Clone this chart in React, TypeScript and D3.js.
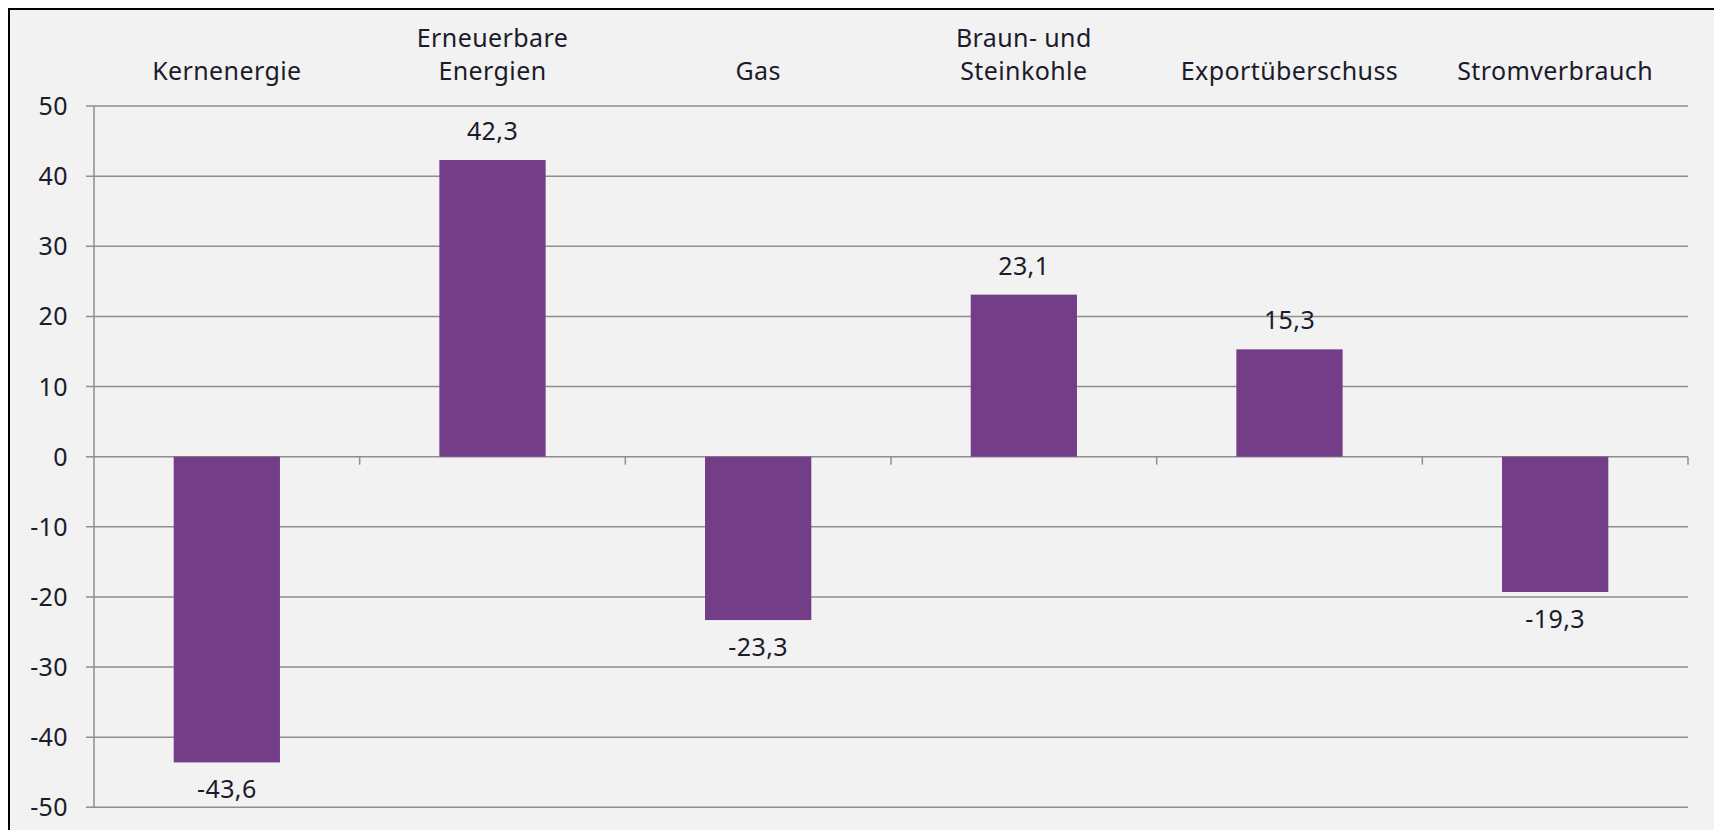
import React from "react";
import * as d3 from "d3";

const categories: string[][] = [
  ["Kernenergie"],
  ["Erneuerbare", "Energien"],
  ["Gas"],
  ["Braun- und", "Steinkohle"],
  ["Exportüberschuss"],
  ["Stromverbrauch"],
];
const values: number[] = [-43.6, 42.3, -23.3, 23.1, 15.3, -19.3];
const yTicks: number[] = [50, 40, 30, 20, 10, 0, -10, -20, -30, -40, -50];

const W = 1714;
const H = 830;
const FONT = "'Noto Sans', sans-serif";
const TEXT = "#1b1b2b";
const GRID = "#8e8e8e";
const BAR = "#733d87";
const FS = 25;

export default function App() {
  const keys = categories.map((c) => c.join(" "));
  const x = d3.scaleBand<string>().domain(keys).range([94, 1688]).paddingInner(0).paddingOuter(0);
  const y = d3.scaleLinear().domain([-50, 50]).range([807.3, 106]);
  const step = x.bandwidth();
  const barW = step * 0.4;
  const fmt = (v: number) => d3.format(".1f")(v).replace(".", ",").replace("\u2212", "-");

  return (
    <svg
      width={W}
      height={H}
      style={{ position: "absolute", left: 0, top: 0, display: "block" }}
      fontFamily={FONT}
      letterSpacing={0.4}
    >
      <rect x={0} y={0} width={W} height={H} fill="#ffffff" />
      <rect x={9} y={9} width={W + 100} height={H + 100} fill="#f2f2f2" stroke="#000" strokeWidth={2} />
      {/* gridlines */}
      {yTicks.map((t) => (
        <line key={"g" + t} x1={86} x2={x.range()[1]} y1={y(t)} y2={y(t)} stroke={GRID} strokeWidth={1.5} />
      ))}
      {/* y axis line */}
      <line x1={94} x2={94} y1={y(50)} y2={y(-50)} stroke={GRID} strokeWidth={1.5} />
      {/* category ticks */}
      {keys.map((k, i) => (
        <line
          key={"ct" + i}
          x1={(x(k) as number) + step}
          x2={(x(k) as number) + step}
          y1={y(0)}
          y2={y(0) + 8}
          stroke={GRID}
          strokeWidth={1.5}
        />
      ))}
      {/* y labels */}
      {yTicks.map((t) => (
        <text key={"yl" + t} x={68} y={y(t) + 9} textAnchor="end" fontSize={FS} fill={TEXT}>
          {t}
        </text>
      ))}
      {/* bars */}
      {keys.map((k, i) => {
        const cx = (x(k) as number) + step / 2;
        const v = values[i];
        const y0 = y(Math.max(0, v));
        const y1 = y(Math.min(0, v));
        return (
          <g key={"b" + i}>
            <rect x={cx - barW / 2} y={y0} width={barW} height={y1 - y0} fill={BAR} />
            <text
              x={cx}
              y={v >= 0 ? y(v) - 20 : y(v) + 36}
              textAnchor="middle"
              fontSize={FS}
              fill={TEXT}
            >
              {fmt(v)}
            </text>
          </g>
        );
      })}
      {/* category labels */}
      {categories.map((lines, i) => {
        const cx = (x(keys[i]) as number) + step / 2;
        return (
          <text key={"cl" + i} textAnchor="middle" fontSize={FS} fill={TEXT}>
            {lines.map((ln, j) => (
              <tspan key={j} x={cx} y={80 - (lines.length - 1 - j) * 33}>
                {ln}
              </tspan>
            ))}
          </text>
        );
      })}
    </svg>
  );
}
